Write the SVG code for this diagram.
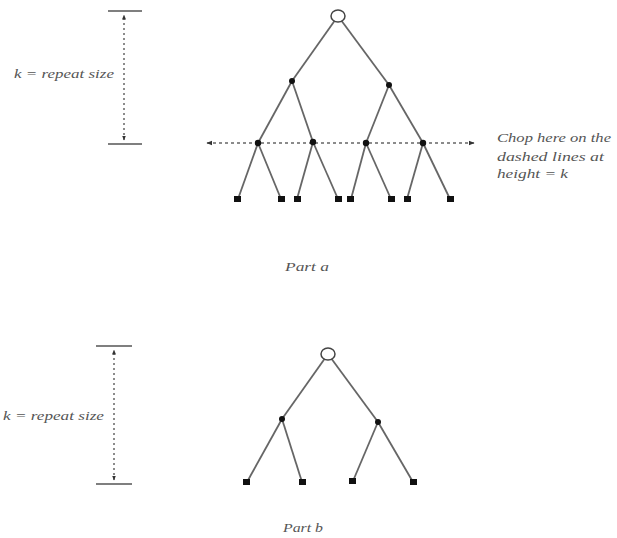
<svg xmlns="http://www.w3.org/2000/svg" width="617" height="538" viewBox="0 0 617 538">
<defs>
<marker id="ah" viewBox="0 0 10 10" refX="9" refY="5" markerWidth="5" markerHeight="5" orient="auto-start-reverse" markerUnits="userSpaceOnUse">
<path d="M0,1 L10,5 L0,9 z" fill="#333"/>
</marker>
<marker id="ahs" viewBox="0 0 10 10" refX="9" refY="5" markerWidth="6" markerHeight="6" orient="auto-start-reverse" markerUnits="userSpaceOnUse">
<path d="M0,1 L10,5 L0,9 z" fill="#333"/>
</marker>
</defs>
<style>
.edge{stroke:#666;stroke-width:1.8;fill:none}
.bar{stroke:#555;stroke-width:1.5}
.dash{stroke:#666;stroke-width:1.5;stroke-dasharray:3,3;fill:none}
.vdash{stroke:#666;stroke-width:1.5;stroke-dasharray:2,3;fill:none}
.inner{fill:#111}
.leaf{fill:#111}
.root{fill:#fff;stroke:#444;stroke-width:1.5}
.lbl{font-family:"Liberation Serif",serif;font-style:italic;font-size:13px;fill:#555}
</style>

<!-- Part a scale bar -->
<g id="scale-a">
<line class="bar" x1="108" y1="11" x2="142" y2="11"/>
<line class="bar" x1="108" y1="144" x2="142" y2="144"/>
<line class="vdash" x1="124" y1="140" x2="124" y2="15" marker-end="url(#ah)" marker-start="url(#ah)"/>
<text class="lbl" x="14" y="78" textLength="100" lengthAdjust="spacingAndGlyphs">k = repeat size</text>
</g>

<!-- Part a tree -->
<g id="connectors-a">
<line class="edge" x1="338" y1="16" x2="292" y2="81"/>
<line class="edge" x1="338" y1="16" x2="389" y2="85"/>
<line class="edge" x1="292" y1="81" x2="258" y2="143"/>
<line class="edge" x1="292" y1="81" x2="313" y2="142"/>
<line class="edge" x1="389" y1="85" x2="366" y2="143"/>
<line class="edge" x1="389" y1="85" x2="423" y2="143"/>
<line class="edge" x1="258" y1="143" x2="238" y2="199"/>
<line class="edge" x1="258" y1="143" x2="281" y2="199"/>
<line class="edge" x1="313" y1="142" x2="297" y2="199"/>
<line class="edge" x1="313" y1="142" x2="338" y2="199"/>
<line class="edge" x1="366" y1="143" x2="351" y2="199"/>
<line class="edge" x1="366" y1="143" x2="391" y2="199"/>
<line class="edge" x1="423" y1="143" x2="407" y2="199"/>
<line class="edge" x1="423" y1="143" x2="450" y2="199"/>
<line class="dash" x1="207" y1="143" x2="474" y2="143" marker-start="url(#ahs)" marker-end="url(#ahs)"/>
</g>
<g id="a-root"><ellipse class="root" cx="338" cy="16" rx="7" ry="6"/></g>
<g id="a-n1"><circle class="inner" cx="292" cy="81" r="3"/></g>
<g id="a-n2"><circle class="inner" cx="389" cy="85" r="3"/></g>
<g id="a-n3"><circle class="inner" cx="258" cy="143" r="3.2"/></g>
<g id="a-n4"><circle class="inner" cx="313" cy="142" r="3.2"/></g>
<g id="a-n5"><circle class="inner" cx="366" cy="143" r="3.2"/></g>
<g id="a-n6"><circle class="inner" cx="423" cy="143" r="3.2"/></g>
<g id="a-l1"><rect class="leaf" x="234" y="196" width="7" height="6"/></g>
<g id="a-l2"><rect class="leaf" x="278" y="196" width="7" height="6"/></g>
<g id="a-l3"><rect class="leaf" x="294" y="196" width="7" height="6"/></g>
<g id="a-l4"><rect class="leaf" x="335" y="196" width="7" height="6"/></g>
<g id="a-l5"><rect class="leaf" x="347" y="196" width="7" height="6"/></g>
<g id="a-l6"><rect class="leaf" x="388" y="196" width="7" height="6"/></g>
<g id="a-l7"><rect class="leaf" x="404" y="196" width="7" height="6"/></g>
<g id="a-l8"><rect class="leaf" x="447" y="196" width="7" height="6"/></g>

<g id="chop-label">
<text class="lbl" x="497" y="142" textLength="114" lengthAdjust="spacingAndGlyphs">Chop here on the</text>
<text class="lbl" x="497" y="161" textLength="107" lengthAdjust="spacingAndGlyphs">dashed lines at</text>
<text class="lbl" x="497" y="178" textLength="71" lengthAdjust="spacingAndGlyphs">height = k</text>
</g>
<g id="part-a-label"><text class="lbl" x="285" y="271" font-size="12" textLength="44" lengthAdjust="spacingAndGlyphs">Part a</text></g>

<!-- Part b scale bar -->
<g id="scale-b">
<line class="bar" x1="96" y1="346" x2="132" y2="346"/>
<line class="bar" x1="96" y1="484" x2="132" y2="484"/>
<line class="vdash" x1="114" y1="480" x2="114" y2="350" marker-end="url(#ah)" marker-start="url(#ah)"/>
<text class="lbl" x="3" y="420" textLength="101" lengthAdjust="spacingAndGlyphs">k = repeat size</text>
</g>

<!-- Part b tree -->
<g id="connectors-b">
<line class="edge" x1="328" y1="354" x2="282" y2="419"/>
<line class="edge" x1="328" y1="354" x2="378" y2="422"/>
<line class="edge" x1="282" y1="419" x2="247" y2="482"/>
<line class="edge" x1="282" y1="419" x2="302" y2="482"/>
<line class="edge" x1="378" y1="422" x2="353" y2="481"/>
<line class="edge" x1="378" y1="422" x2="413" y2="482"/>
</g>
<g id="b-root"><ellipse class="root" cx="328" cy="354" rx="7" ry="6"/></g>
<g id="b-n1"><circle class="inner" cx="282" cy="419" r="3"/></g>
<g id="b-n2"><circle class="inner" cx="378" cy="422" r="3"/></g>
<g id="b-l1"><rect class="leaf" x="243" y="479" width="7" height="6"/></g>
<g id="b-l2"><rect class="leaf" x="299" y="479" width="7" height="6"/></g>
<g id="b-l3"><rect class="leaf" x="349" y="478" width="7" height="6"/></g>
<g id="b-l4"><rect class="leaf" x="410" y="479" width="7" height="6"/></g>
<g id="part-b-label"><text class="lbl" x="283" y="532" font-size="12" textLength="40" lengthAdjust="spacingAndGlyphs">Part b</text></g>
</svg>
